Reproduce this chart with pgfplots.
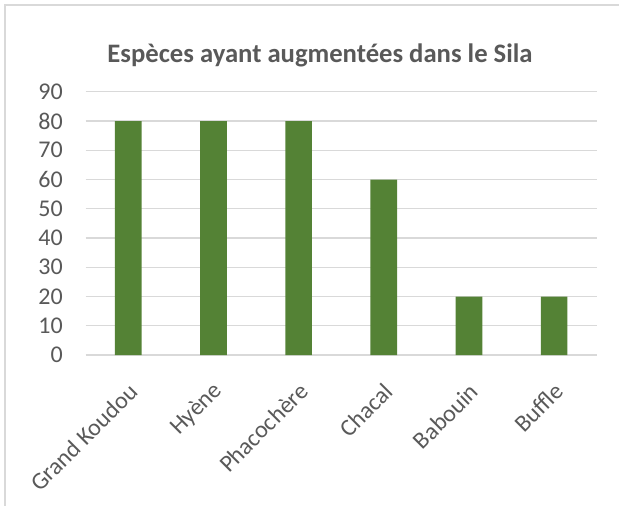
\documentclass[border=0pt]{standalone}
\usepackage{fontspec}
\setmainfont{Carlito}
\usepackage{pgfplots}
\pgfplotsset{compat=1.18}
\definecolor{bargreen}{HTML}{548235}
\definecolor{gridgray}{HTML}{D9D9D9}
\definecolor{txtgray}{HTML}{595959}

\begin{document}
\begin{tikzpicture}
% frame of the chart area (1px = 0.75pt)
\useasboundingbox (0,0) rectangle (464.25pt,-379.5pt);
\draw[gridgray, line width=1pt] (3.75pt,-379.5pt) -- (3.75pt,-3.75pt) -- (464.25pt,-3.75pt);
\node[txtgray, font=\fontsize{20}{24}\selectfont\bfseries, anchor=base]
  at (240pt,-47pt) {Espèces ayant augmentées dans le Sila};

\begin{axis}[
  at={(64.275pt,-266.25pt)},
  anchor=south west,
  scale only axis,
  width=383.25pt,
  height=197.4pt,
  ybar,
  bar width=20pt,
  xmin=-0.5, xmax=5.5,
  ymin=0, ymax=90,
  ytick={0,10,...,90},
  xtick=data,
  xticklabels={Grand Koudou, Hyène, Phacochère, Chacal, Babouin, Buffle},
  ymajorgrids,
  grid style={gridgray, line width=0.9pt},
  axis line style={draw=none},
  major tick style={draw=none},
  /pgf/number format/assume math mode=true,
  tick label style={txtgray, font=\fontsize{18}{21}\selectfont},
  yticklabel style={anchor=east, inner sep=0pt, xshift=-17pt},
  xticklabel style={yshift=-20pt, xshift=4pt, rotate=45, anchor=east, inner sep=0pt},
  clip=false,
]
  \addplot[fill=bargreen, draw=none] coordinates {
    (0,80) (1,80) (2,80) (3,60) (4,20) (5,20)
  };
\end{axis}
\end{tikzpicture}
\end{document}
